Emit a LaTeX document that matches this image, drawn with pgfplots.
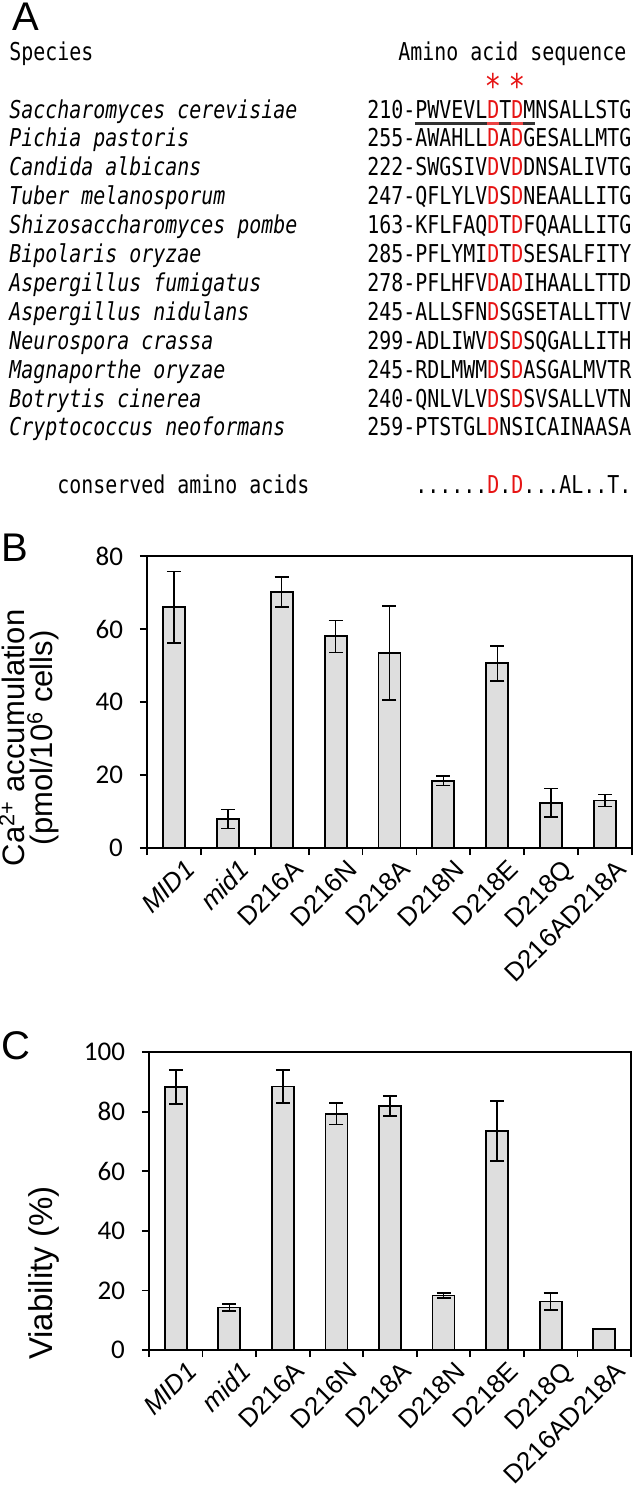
\documentclass[border=0pt]{standalone}
\usepackage{pgfplots}
\pgfplotsset{compat=1.18}
\usepackage{pgfplotstable}
\usepackage{fontspec}
\setmainfont{Liberation Sans}
\newfontfamily\calib{Carlito}
\newfontfamily\mono[FakeStretch=0.81]{DejaVu Sans Mono}
\definecolor{seqred}{RGB}{230,20,20}
\definecolor{barfill}{RGB}{222,222,222}
\definecolor{ulgray}{RGB}{50,50,50}
\newcommand\R[1]{\textcolor{seqred}{#1}}
\newcommand\monofont{\mono\fontsize{12.3pt}{14pt}\selectfont}

\pgfplotstableread{
x y e
0 66.0 9.8
1 8.0 2.6
2 70.2 4.1
3 58.0 4.4
4 53.4 12.9
5 18.4 1.3
6 50.6 4.8
7 12.4 3.9
8 13.0 1.6
}\dataB

\pgfplotstableread{
x y e
0 88.2 5.7
1 14.3 1.2
2 88.4 5.5
3 79.3 3.6
4 81.9 3.3
5 18.3 0.8
6 73.5 10.0
7 16.3 2.8
}\dataC

\pgfplotstableread{
x y
8 7.1
}\dataCnoerr

\pgfplotsset{
  myaxis/.style={
    anchor=south west, scale only axis,
    xmin=-0.5, xmax=8.5, ymin=0,
    xtick={-0.5,0.5,1.5,2.5,3.5,4.5,5.5,6.5,7.5,8.5},
    x tick label as interval,
    xticklabels={\textit{MID1},\textit{mid1},D216A,D216N,D218A,D218N,D218E,D218Q,D216AD218A},
    tick align=outside, tick pos=left, major tick length=3.5pt,
    axis line style={line width=0.9pt},
    every tick/.append style={black, line width=0.9pt},
    yticklabel style={font=\calib\fontsize{13.5pt}{14pt}\selectfont, xshift=-5pt},
    xticklabel style={font=\fontsize{13pt}{14pt}\selectfont, rotate=45, anchor=north east, inner sep=0pt, xshift=2.5pt, yshift=-4.5pt},
    /pgf/number format/assume math mode=true,
    ylabel style={anchor=center, align=center},
  },
  mybar/.style={ybar, bar width=11pt, bar shift=0pt, fill=barfill, draw=black, line width=0.9pt},
  myerr/.style={error bars/.cd, y dir=both, y explicit,
    error bar style={line width=0.75pt, black},
    error mark options={rotate=90, mark size=3.5pt, line width=0.75pt, black}},
}

\begin{document}
\begin{tikzpicture}
\path[use as bounding box] (0,0) rectangle (316.5pt,-747.5pt);
\begin{scope}[x=0.5pt,y=-0.5pt, every node/.style={inner sep=0pt}]
\node[anchor=north west, font=\fontsize{20pt}{20pt}\selectfont] at (12,3) {A};
\node[anchor=north west, font=\fontsize{20pt}{20pt}\selectfont] at (1,534) {B};
\node[anchor=north west, font=\fontsize{20pt}{20pt}\selectfont] at (1,1031) {C};
\node[anchor=base west, font=\monofont] at (9,60) {Species};
\node[anchor=base west, font=\monofont] at (398,60) {Amino acid sequence};
\node[anchor=center, font=\mono\fontsize{17pt}{17pt}\selectfont, text=seqred] at (493,86) {*};
\node[anchor=center, font=\mono\fontsize{17pt}{17pt}\selectfont, text=seqred] at (517,86) {*};
\foreach \i/\s in {0/Saccharomyces cerevisiae,1/Pichia pastoris,2/Candida albicans,3/Tuber melanosporum,4/Shizosaccharomyces pombe,5/Bipolaris oryzae,6/Aspergillus fumigatus,7/Aspergillus nidulans,8/Neurospora crassa,9/Magnaporthe oryzae,10/Botrytis cinerea,11/Cryptococcus neoformans}{
  \node[anchor=base west, font=\monofont\itshape] at (9,{118+28.9*\i}) {\s};
}
\node[anchor=base west, font=\monofont] at (367,{118+28.9*0}) {210-PWVEVL\R{D}T\R{D}MNSALLSTG};
\node[anchor=base west, font=\monofont] at (367,{118+28.9*1}) {255-AWAHLL\R{D}A\R{D}GESALLMTG};
\node[anchor=base west, font=\monofont] at (367,{118+28.9*2}) {222-SWGSIV\R{D}V\R{D}DNSALIVTG};
\node[anchor=base west, font=\monofont] at (367,{118+28.9*3}) {247-QFLYLV\R{D}S\R{D}NEAALLITG};
\node[anchor=base west, font=\monofont] at (367,{118+28.9*4}) {163-KFLFAQ\R{D}T\R{D}FQAALLITG};
\node[anchor=base west, font=\monofont] at (367,{118+28.9*5}) {285-PFLYMI\R{D}T\R{D}SESALFITY};
\node[anchor=base west, font=\monofont] at (367,{118+28.9*6}) {278-PFLHFV\R{D}A\R{D}IHAALLTTD};
\node[anchor=base west, font=\monofont] at (367,{118+28.9*7}) {245-ALLSFN\R{D}SGSETALLTTV};
\node[anchor=base west, font=\monofont] at (367,{118+28.9*8}) {299-ADLIWV\R{D}S\R{D}SQGALLITH};
\node[anchor=base west, font=\monofont] at (367,{118+28.9*9}) {245-RDLMWM\R{D}S\R{D}ASGALMVTR};
\node[anchor=base west, font=\monofont] at (367,{118+28.9*10}) {240-QNLVLV\R{D}S\R{D}SVSALLVTN};
\node[anchor=base west, font=\monofont] at (367,{118+28.9*11}) {259-PTSTGL\R{D}NSICAINAASA};
\draw[ulgray, line width=1.3pt] (415,123.5) -- (535,123.5);
\draw[seqred!80, line width=1.3pt] (487,123.5) -- (499,123.5);
\draw[seqred!80, line width=1.3pt] (511,123.5) -- (523,123.5);
\node[anchor=base west, font=\monofont] at (57,493) {conserved amino acids};
\node[anchor=base west, font=\monofont] at (415,493) {......\R{D}.\R{D}...AL..T.};
\end{scope}

\begin{axis}[myaxis,
  at={(73.5pt,-424pt)}, width=242.5pt, height=146pt,
  ymax=80, ytick={0,20,40,60,80},
  ylabel={Ca\textsuperscript{2+} accumulation\\(pmol/10\textsuperscript{6} cells)},
  ylabel style={at={(axis description cs:-0.243,0.377)}, font=\fontsize{15.5pt}{14pt}\selectfont},
]
\addplot[mybar, myerr] table[x=x, y=y, y error=e] {\dataB};
\end{axis}

\begin{axis}[myaxis,
  at={(74.5pt,-675pt)}, width=241pt, height=149pt,
  ymax=100, ytick={0,20,40,60,80,100},
  ylabel={Viability (\%)},
  ylabel style={at={(axis description cs:-0.218,0.258)}, font=\fontsize{16.5pt}{16pt}\selectfont},
]
\addplot[mybar, myerr] table[x=x, y=y, y error=e] {\dataC};
\addplot[mybar] table[x=x, y=y] {\dataCnoerr};
\end{axis}
\end{tikzpicture}
\end{document}
